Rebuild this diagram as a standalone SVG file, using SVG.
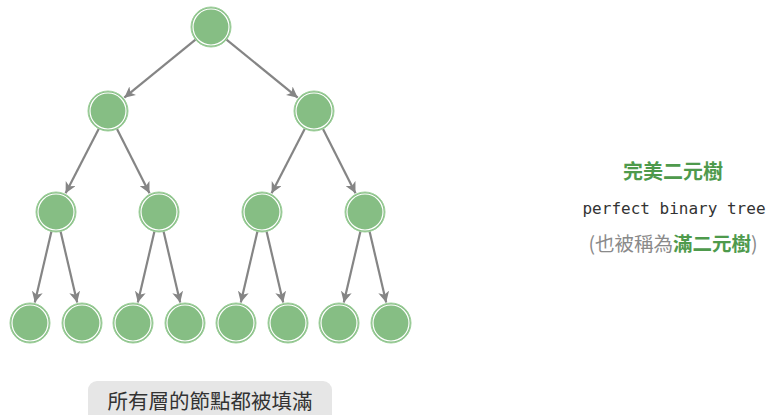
<svg xmlns="http://www.w3.org/2000/svg" width="768" height="415" viewBox="0 0 768 415">
<defs>
<style>
.edge{stroke:#858585;stroke-width:2.2;fill:none;marker-end:url(#ah)}
.nb{fill:#86be84;stroke:#9fd09c;stroke-width:1}
.ni{fill:none;stroke:#ffffff;stroke-width:1.2}
.cjk{font-family:"Noto Sans CJK TC","Noto Sans CJK SC",sans-serif}
.green{fill:#4e9a4c;font-weight:bold}
</style>
<marker id="ah" markerUnits="userSpaceOnUse" markerWidth="13" markerHeight="11" refX="11" refY="5.5" orient="auto">
<path d="M0,0 L11,5.5 L0,11 L3,5.5 Z" fill="#858585"/>
</marker>
<g id="nodeshape"><circle class="nb" r="20"/><circle class="ni" r="18"/></g>
</defs>
<rect width="768" height="415" fill="#ffffff"/>
<g id="connectors">
<line class="edge" x1="195.5" y1="39.6" x2="124.3" y2="97.7"/>
<line class="edge" x1="226.5" y1="39.6" x2="297.7" y2="97.7"/>
<line class="edge" x1="98.8" y1="128.8" x2="65.6" y2="193.3"/>
<line class="edge" x1="117" y1="128.9" x2="149.5" y2="193.2"/>
<line class="edge" x1="304.8" y1="128.8" x2="271.6" y2="193.3"/>
<line class="edge" x1="323" y1="128.9" x2="355.5" y2="193.2"/>
<line class="edge" x1="51.4" y1="231.5" x2="34.8" y2="302.6"/>
<line class="edge" x1="60.6" y1="231.5" x2="77.2" y2="302.6"/>
<line class="edge" x1="154.4" y1="231.5" x2="137.8" y2="302.6"/>
<line class="edge" x1="163.6" y1="231.5" x2="180.2" y2="302.6"/>
<line class="edge" x1="257.4" y1="231.5" x2="240.8" y2="302.6"/>
<line class="edge" x1="266.6" y1="231.5" x2="283.2" y2="302.6"/>
<line class="edge" x1="360.4" y1="231.5" x2="343.8" y2="302.6"/>
<line class="edge" x1="369.6" y1="231.5" x2="386.2" y2="302.6"/>
</g>
<g id="n0"><use href="#nodeshape" x="211" y="27"/></g>
<g id="n1"><use href="#nodeshape" x="108" y="111"/></g>
<g id="n2"><use href="#nodeshape" x="314" y="111"/></g>
<g id="n3"><use href="#nodeshape" x="56" y="212"/></g>
<g id="n4"><use href="#nodeshape" x="159" y="212"/></g>
<g id="n5"><use href="#nodeshape" x="262" y="212"/></g>
<g id="n6"><use href="#nodeshape" x="365" y="212"/></g>
<g id="n7"><use href="#nodeshape" x="30" y="323"/></g>
<g id="n8"><use href="#nodeshape" x="82" y="323"/></g>
<g id="n9"><use href="#nodeshape" x="133" y="323"/></g>
<g id="n10"><use href="#nodeshape" x="185" y="323"/></g>
<g id="n11"><use href="#nodeshape" x="236" y="323"/></g>
<g id="n12"><use href="#nodeshape" x="288" y="323"/></g>
<g id="n13"><use href="#nodeshape" x="339" y="323"/></g>
<g id="n14"><use href="#nodeshape" x="391" y="323"/></g>
<g id="legend">
<text x="673" y="179" text-anchor="middle" class="cjk green" font-size="20">完美二元樹</text>
<text x="674" y="214" text-anchor="middle" font-family="'DejaVu Sans Mono',monospace" font-size="16" fill="#333333">perfect binary tree</text>
<text x="673" y="251" text-anchor="middle" class="cjk" font-size="19.5" fill="#8a8a8a">(也被稱為<tspan class="green">滿二元樹</tspan>)</text>
</g>
<g id="caption">
<rect x="88" y="381" width="244" height="44" rx="9" fill="#e6e6e6"/>
<text x="210" y="409" text-anchor="middle" class="cjk" font-size="20.5" fill="#333333">所有層的節點都被填滿</text>
</g>
</svg>
